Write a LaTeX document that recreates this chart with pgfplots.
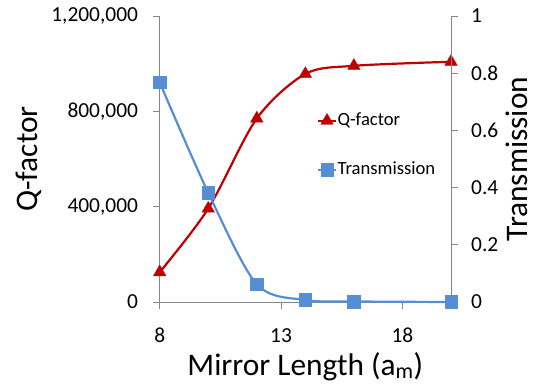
\documentclass[border=0pt]{standalone}
\usepackage{fontspec}
\setmainfont{Carlito}
\usepackage{pgfplots}
\pgfplotsset{compat=1.18}
\definecolor{qred}{RGB}{192,0,0}
\definecolor{tblue}{RGB}{85,142,213}
\definecolor{axgray}{RGB}{134,134,134}
\pgfplotsset{
  qstyle/.style={qred, line width=2.2bp, smooth, mark=triangle*, mark size=7.2bp,
    mark options={solid, fill=qred, draw=qred, line width=0.4bp}},
  tstyle/.style={tblue, line width=2.2bp, smooth, mark=square*, mark size=6.3bp,
    mark options={solid, fill=tblue, draw=tblue, line width=0.4bp}},
  common/.style={
    at={(0,0)}, anchor=south west,
    scale only axis, width=291.3bp, height=286bp,
    xmin=8, xmax=20, clip=false,
    axis line style={axgray, line width=0.9bp, -},
    tick align=outside, major tick length=6.5bp,
    tick style={axgray, line width=0.9bp},
    ticklabel style={font=\fontsize{21.5}{24}\selectfont, text=black, inner sep=0pt},
    label style={font=\fontsize{31.5}{36}\selectfont, text=black, inner sep=0pt},
    scaled y ticks=false,
  },
}
\begin{document}
\begin{tikzpicture}[x=1bp,y=1bp]
\begin{axis}[common,
  ymin=0, ymax=1200000,
  axis x line*=bottom, axis y line*=left,
  xtick={8,13,18}, xticklabels={8,13,18},
  ytick={0,400000,800000,1200000},
  yticklabels={0,{400,000},{800,000},{1,200,000}},
  xticklabel style={anchor=north, yshift=-19.5bp},
  yticklabel style={anchor=east, xshift=-15bp},
  xlabel={Mirror Length (a\textsubscript{m})},
  ylabel={Q-factor},
  xlabel style={at={(axis description cs:0.5,0)}, anchor=base, yshift=-73bp},
  ylabel style={at={(axis description cs:0,0.5)}, anchor=base, yshift=122.5bp},
]
\addplot[qstyle] coordinates {(8,125000)(10,392000)(12,770000)(14,957000)(16,991000)(20,1008000)};
\end{axis}
\begin{axis}[common,
  ymin=0, ymax=1,
  axis x line=none, axis y line*=right,
  ytick={0,0.2,0.4,0.6,0.8,1},
  yticklabels={0,0.2,0.4,0.6,0.8,1},
  yticklabel style={anchor=west, xshift=13.5bp},
  ylabel={Transmission},
  ylabel style={at={(axis description cs:1,0.5)}, anchor=base, yshift=-76bp},
  legend style={draw=none, fill=none, at={(axis description cs:0.539,0.6626)}, anchor=north west,
    font=\fontsize{18.7}{22}\selectfont, row sep=33bp, column sep=0pt, inner sep=0pt,
    nodes={inner sep=0.5bp, text height=12bp, text depth=3bp}},
  legend image code/.code={\draw[mark repeat=2,mark phase=2,#1] plot coordinates {(0bp,0bp)(9bp,0bp)(18bp,0bp)};},
  legend cell align=left,
]
\addlegendimage{qstyle}
\addlegendentry{Q-factor}
\addplot[tstyle] coordinates {(8,0.768)(10,0.382)(12,0.062)(14,0.007)(16,0.002)(20,0.0)};
\addlegendentry{Transmission}
\end{axis}
\pgfresetboundingbox
\path[use as bounding box] (-159.7bp,-85bp) rectangle (375.3bp,302bp);
\end{tikzpicture}
\end{document}
